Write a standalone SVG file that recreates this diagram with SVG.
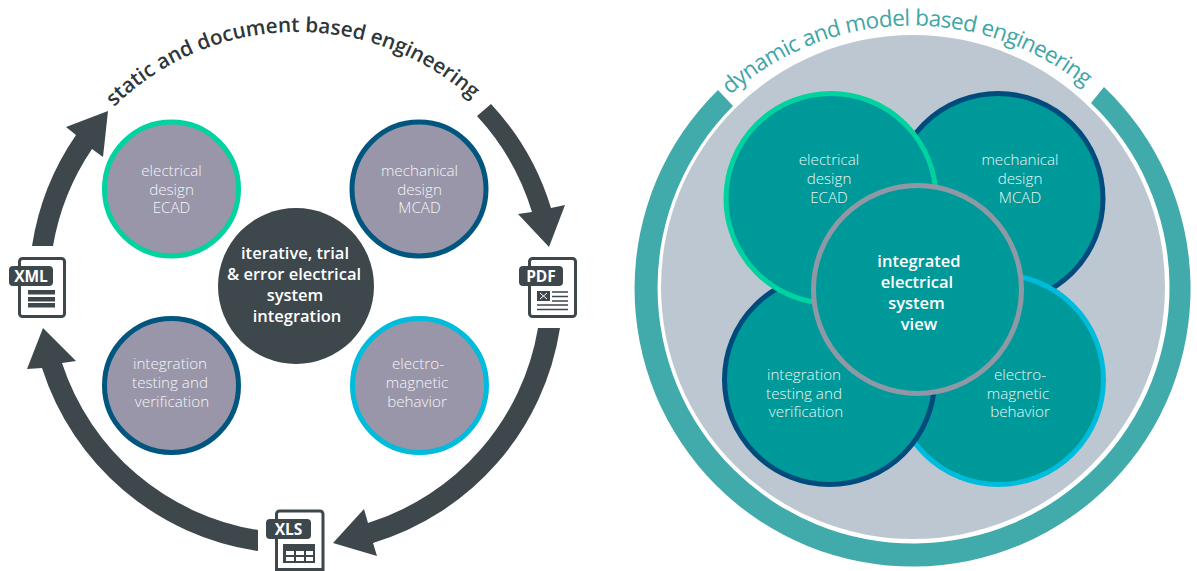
<svg xmlns="http://www.w3.org/2000/svg" width="1197" height="571" viewBox="0 0 1197 571">
<style>
text{font-family:"Open Sans","Noto Sans","Liberation Sans",sans-serif;text-anchor:middle}
.l{font-size:15.200px;font-weight:300;fill:#f6f5fa}
.t{font-size:15.200px;font-weight:300;fill:#e6f7f5}
.b{font-size:16.500px;font-weight:600;fill:#fff}
.g{fill:#9896a8;stroke-width:5}
.c{fill:#009999;stroke-width:5}
.a{fill:#3d474c}
.d{fill:#fff;stroke:#3d474c;stroke-width:3}
.tag{font-size:15.500px;font-weight:700;fill:#fff}
.w{fill:#fff}
</style>
<rect width="1197" height="571" fill="#fff"/>
<g id="connectors" class="a">
<path d="M32 246A267 267 0 0 1 76 135L66 127L108 111L103 157L92 149A247 247 0 0 0 53 246Z"/>
<path d="M491 104A267 267 0 0 1 551 208L565 205L549 247L518 214L532 212A247 247 0 0 0 477 116Z"/>
<path d="M560 328A267 267 0 0 1 373 543L377 556L333 543L364 509L368 523A247 247 0 0 0 538 328Z"/>
<path d="M258 551A267 267 0 0 1 42 368L27 369L43 328L76 361L62 363A247 247 0 0 0 258 530Z"/>
</g>
<g id="title-left"><path id="arcL" d="M114 107A261 261 0 0 1 490 117" fill="none"/>
<text font-size="20.700" font-weight="600" fill="#2f3639" style="text-anchor:start"><textPath href="#arcL">static and document based engineering</textPath></text></g>
<g id="left-ecad"><circle class="g" cx="171.500" cy="189" r="67" stroke="#00d2a0"/><text class="l" x="171.500" y="176">electrical</text><text class="l" x="171.500" y="195">design</text><text class="l" x="171.500" y="213">ECAD</text></g>
<g id="left-mcad"><circle class="g" cx="419" cy="189" r="67" stroke="#00567f"/><text class="l" x="419.500" y="176">mechanical</text><text class="l" x="419.500" y="195">design</text><text class="l" x="419.500" y="213">MCAD</text></g>
<g id="left-testing"><circle class="g" cx="171.500" cy="385.500" r="67" stroke="#00567f"/><text class="l" x="170" y="369">integration</text><text class="l" x="170" y="388">testing and</text><text class="l" x="172" y="407">verification</text></g>
<g id="left-emag"><circle class="g" cx="419.500" cy="385.500" r="67" stroke="#00bcdc"/><text class="l" x="418" y="369">electro-</text><text class="l" x="417" y="388">magnetic</text><text class="l" x="417" y="407">behavior</text></g>
<g id="left-center"><circle class="a" cx="296" cy="286" r="78"/><text class="b" x="295" y="259">iterative, trial</text><text class="b" x="294" y="280">&amp; error electrical</text><text class="b" x="295" y="301">system</text><text class="b" x="297" y="322">integration</text></g>
<g id="icon-xml"><rect class="d" x="19.500" y="258.500" width="45" height="58" rx="3"/><rect class="a" x="9" y="266" width="44" height="20" rx="4"/><text class="tag" x="31" y="282">XML</text><path class="a" d="M28 290h27v4.500h-27zM28 297h27v4.500h-27zM28 303h27v4.500h-27z"/></g>
<g id="icon-pdf"><rect class="d" x="529.500" y="258.500" width="46" height="58" rx="3"/><rect class="a" x="519" y="266" width="44" height="20" rx="4"/><text class="tag" x="541" y="282">PDF</text><rect class="a" x="537" y="291" width="13" height="10"/><path d="M540 293l7 6M547 293l-7 6" stroke="#fff" fill="none"/><path d="M552 292h16M552 296.500h16M552 301h16M537 305h31M537 309.500h31" stroke="#3d474c" stroke-width="1.500" fill="none"/></g>
<g id="icon-xls"><path class="d" d="M276.500 571V514a3 3 0 0 1 3-3H320a3 3 0 0 1 3 3V571"/><path d="M276 569.500H323" stroke="#3d474c" stroke-width="3"/><rect class="a" x="266" y="519" width="45" height="20" rx="4"/><text class="tag" x="288.500" y="535">XLS</text><rect class="a" x="283" y="544" width="32" height="19"/><path class="w" d="M286 551h8v4h-8zM296 551h8v4h-8zM306 551h7v4h-7zM286 557h8v4h-8zM296 557h8v4h-8zM306 557h7v4h-7z"/></g>
<g id="ring"><path d="M718 90A278 278 0 1 0 1104 87L1091 103A256 256 0 1 1 733 106Z" fill="#41aaaa"/><circle cx="913" cy="287" r="252" fill="#bdc7d1"/></g>
<g id="title-right"><path id="arcR" d="M730 95A274 274 0 0 1 1102 102" fill="none"/>
<text font-size="22.500" font-weight="500" fill="#3fa5a5" letter-spacing="-0.6" style="text-anchor:start"><textPath href="#arcR">dynamic and model based engineering</textPath></text></g>
<g id="right-mcad"><circle class="c" cx="998" cy="198.500" r="105" stroke="#004b7d"/></g>
<g id="right-emag"><circle class="c" cx="998.500" cy="379.500" r="105" stroke="#00bcdc"/></g>
<g id="right-testing"><circle class="c" cx="829.500" cy="379.500" r="105" stroke="#004b7d"/></g>
<g id="right-ecad"><circle class="c" cx="831" cy="198.500" r="105" stroke="#00d2a0"/></g>
<g id="right-center"><circle class="c" cx="917.500" cy="289.500" r="104" stroke="#8f99a6"/></g>
<g id="right-labels">
<text class="t" x="829" y="165">electrical</text><text class="t" x="829" y="184">design</text><text class="t" x="829" y="203">ECAD</text>
<text class="t" x="1020" y="165">mechanical</text><text class="t" x="1020" y="184">design</text><text class="t" x="1020" y="203">MCAD</text>
<text class="t" x="804" y="380">integration</text><text class="t" x="804" y="399">testing and</text><text class="t" x="806" y="417">verification</text>
<text class="t" x="1020" y="380">electro-</text><text class="t" x="1018" y="399">magnetic</text><text class="t" x="1020" y="417">behavior</text>
<text class="b" x="919" y="267">integrated</text><text class="b" x="917" y="288">electrical</text><text class="b" x="916.500" y="309">system</text><text class="b" x="919" y="330">view</text>
</g>
</svg>
